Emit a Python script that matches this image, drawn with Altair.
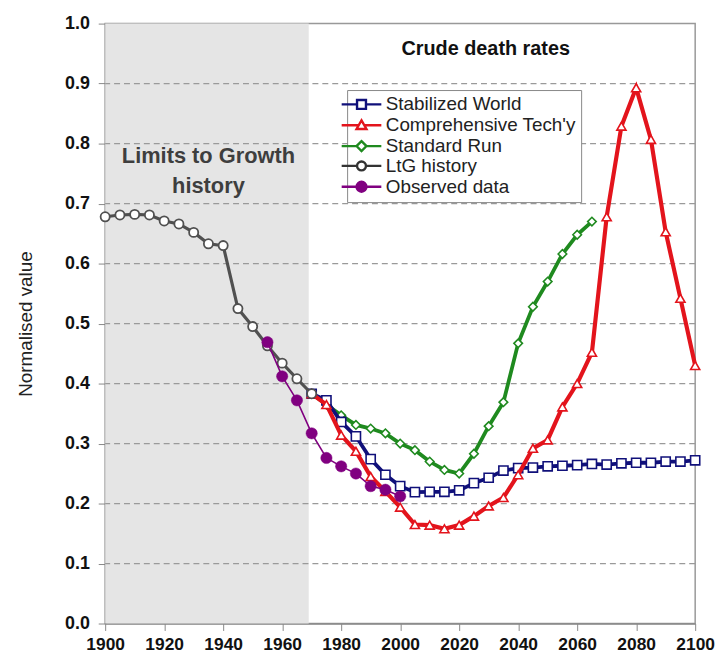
import altair as alt
import pandas as pd

# ---------------- data ----------------
series_names = ["Stabilized World", "Comprehensive Tech'y", "Standard Run", "LtG history", "Observed data"]

years_ltg = [1900, 1905, 1910, 1915, 1920, 1925, 1930, 1935, 1940, 1945, 1950, 1955, 1960, 1965, 1970]
ltg_history = [0.678, 0.681, 0.682, 0.681, 0.671, 0.666, 0.652, 0.633, 0.630, 0.525, 0.495, 0.463, 0.434, 0.408, 0.383]

years_obs = [1955, 1960, 1965, 1970, 1975, 1980, 1985, 1990, 1995, 2000]
observed = [0.469, 0.412, 0.372, 0.317, 0.276, 0.262, 0.250, 0.229, 0.223, 0.212]

years_scen = [1970, 1975, 1980, 1985, 1990, 1995, 2000, 2005, 2010, 2015, 2020, 2025, 2030, 2035,
              2040, 2045, 2050, 2055, 2060, 2065, 2070, 2075, 2080, 2085, 2090, 2095, 2100]
stabilized = [0.383, 0.372, 0.336, 0.312, 0.274, 0.248, 0.229, 0.219, 0.2195, 0.2195, 0.222, 0.234, 0.243, 0.255,
              0.259, 0.260, 0.262, 0.263, 0.264, 0.266, 0.265, 0.267, 0.268, 0.268, 0.270, 0.270, 0.272]
comp_tech = [0.383, 0.365, 0.314, 0.287, 0.245, 0.220, 0.194, 0.165, 0.164, 0.158, 0.164, 0.179, 0.196, 0.210,
             0.248, 0.292, 0.306, 0.361, 0.400, 0.452, 0.678, 0.829, 0.893, 0.807, 0.653, 0.542, 0.430]

years_std = [1970, 1975, 1980, 1985, 1990, 1995, 2000, 2005, 2010, 2015, 2020, 2025, 2030, 2035,
             2040, 2045, 2050, 2055, 2060, 2065]
standard_run = [0.383, 0.365, 0.347, 0.331, 0.325, 0.317, 0.300, 0.289, 0.270, 0.256, 0.250, 0.283, 0.329, 0.369,
                0.467, 0.528, 0.570, 0.616, 0.648, 0.670]

x_ticks = [1900, 1920, 1940, 1960, 1980, 2000, 2020, 2040, 2060, 2080, 2100]
y_ticks = [0.0, 0.1, 0.2, 0.3, 0.4, 0.5, 0.6, 0.7, 0.8, 0.9, 1.0]
grid_vals = [0.1, 0.2, 0.3, 0.4, 0.5, 0.6, 0.7, 0.8, 0.9]
shade_x = [1900, 1969]
shade_y = [0.0, 1.0]

annot_labels = ["Limits to Growth", "history", "Crude death rates"]
annot_years = [1935, 1935, 2029]
annot_values = [0.78, 0.73, 0.958]

# ---------------- styles ----------------
FONT = "Liberation Sans"
NAVY = "#10107a"
RED = "#e3141c"
GREEN = "#1f8a1f"
GRAY = "#505050"
PURPLE = "#800080"

X_AXIS = alt.Axis(values=x_ticks, format="d", title=None, grid=False,
                  labelFont=FONT, labelFontSize=17.5, labelFontWeight="bold", labelColor="#111",
                  tickSize=7, tickColor="#888", domainColor="#888", domainWidth=1.5,
                  labelPadding=5, labelOverlap=False, labelFlush=False)
Y_AXIS = alt.Axis(values=y_ticks, format=".1f", title="Normalised value", grid=False,
                  labelFont=FONT, labelFontSize=18, labelFontWeight="bold", labelColor="#111",
                  titleFont=FONT, titleFontSize=19, titleFontWeight="normal", titleColor="#222",
                  titlePadding=29, labelPadding=9,
                  tickSize=7, tickColor="#888", domainColor="#777", domainWidth=1.5)

XS = alt.Scale(domain=[1900, 2100], nice=False, zero=False)
YS = alt.Scale(domain=[0, 1], nice=False)


def X(f):
    return alt.X(f, type="quantitative", scale=XS, axis=X_AXIS)


def Y(f):
    return alt.Y(f, type="quantitative", scale=YS, axis=Y_AXIS)


# ---------------- layers ----------------
shade_df = pd.DataFrame({"x0": [shade_x[0]], "x1": [shade_x[1]], "y0": [shade_y[0]], "y1": [shade_y[1]]})
shade = alt.Chart(shade_df).mark_rect(color="#e5e5e5").encode(
    x=X("x0"), x2="x1", y=Y("y0"), y2="y1")

grid = alt.Chart(pd.DataFrame({"v": grid_vals})).mark_rule(
    color="#9a9a9a", strokeDash=[6, 4], strokeWidth=1.2).encode(y=Y("v"))


def series_layer(years, values, color, shape, width, size, filled=False, mstroke=1.6, fill="white"):
    df = pd.DataFrame({"year": years, "value": values})
    base = alt.Chart(df)
    line = base.mark_line(color=color, strokeWidth=width).encode(x=X("year"), y=Y("value"))
    if filled:
        pts = base.mark_point(shape=shape, size=size, filled=True, fill=color, stroke=color,
                              strokeWidth=0.5, opacity=1)
    else:
        pts = base.mark_point(shape=shape, size=size, filled=True, fill=fill, stroke=color,
                              strokeWidth=mstroke, opacity=1)
    pts = pts.encode(x=X("year"), y=Y("value"))
    return line + pts


green = series_layer(years_std, standard_run, GREEN, "diamond", 3.8, 75)
blue = series_layer(years_scen, stabilized, NAVY, "square", 3.8, 85)
red = series_layer(years_scen, comp_tech, RED, "triangle-up", 4.2, 85)
ltg = series_layer(years_ltg, ltg_history, GRAY, "circle", 3.2, 85, mstroke=1.8)
obs = series_layer(years_obs, observed, PURPLE, "circle", 1.6, 130, filled=True)

annot_df = pd.DataFrame({"label": annot_labels, "year": annot_years, "value": annot_values})
lim_text = alt.Chart(annot_df.iloc[:2]).mark_text(
    font=FONT, fontSize=22, fontWeight="bold", color="#3e3e3e").encode(
    x=X("year"), y=Y("value"), text="label:N")
title_text = alt.Chart(annot_df.iloc[2:]).mark_text(
    font=FONT, fontSize=20, fontWeight="bold", color="#111").encode(
    x=X("year"), y=Y("value"), text="label:N")

# legend (native legend with custom line+marker symbols)
sym_paths = [
    "M-4,0H-0.9M0.9,0H4M-0.9,-0.9H0.9V0.9H-0.9Z",
    "M-4,0H-0.57M0.57,0H4M0,-1L1,0.75H-1Z",
    "M-4,0H-1M1,0H4M0,-1L1,0L0,1L-1,0Z",
    "M-4,0H-0.9M0.9,0H4M-0.9,0A0.9,0.9,0,1,0,0.9,0A0.9,0.9,0,1,0,-0.9,0Z",
    "M-4,0H-1M1,0H4M-1,0A1,1,0,1,0,1,0A1,1,0,1,0,-1,0Z",
]
sym_fill = ["white", "white", "white", "white", PURPLE]
sym_stroke = [NAVY, RED, GREEN, "#333333", PURPLE]

LEG = alt.Legend(orient="none", legendX=244, legendY=67, title=None,
                 labelFont=FONT, labelFontSize=19, labelColor="#222", labelLimit=400,
                 symbolSize=100, symbolStrokeWidth=2.4, labelOffset=15,
                 rowPadding=0, padding=5, strokeColor="#888", fillColor="white")

leg_df = pd.DataFrame({"series": series_names, "year": [2000] * 5, "value": [0.5] * 5})
legend_layer = alt.Chart(leg_df).transform_filter("false").mark_point(filled=True, opacity=1).encode(
    x=X("year"), y=Y("value"),
    shape=alt.Shape("series:N", scale=alt.Scale(domain=series_names, range=sym_paths), legend=LEG),
    fill=alt.Fill("series:N", scale=alt.Scale(domain=series_names, range=sym_fill), legend=LEG),
    stroke=alt.Stroke("series:N", scale=alt.Scale(domain=series_names, range=sym_stroke), legend=LEG),
)

chart = alt.layer(shade, grid, green, blue, red, ltg, obs, lim_text, title_text, legend_layer).properties(
    width=595, height=605,
    autosize=alt.AutoSizeParams(type="none"),
    padding={"left": 98, "top": 13, "right": 20, "bottom": 29},
).configure_view(stroke="#999", strokeWidth=1.5)

chart.save("out.html", embed_options={"renderer": "svg", "actions": False})
